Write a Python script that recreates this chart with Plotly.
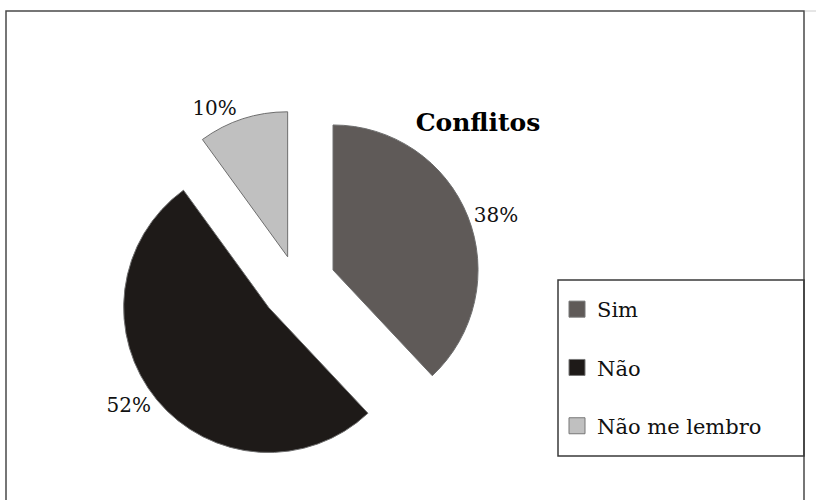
import plotly.graph_objects as go

categories = ["Sim", "Não", "Não me lembro"]
values = [38, 52, 10]
colors = ["#5f5a58", "#1e1a18", "#c0c0c0"]
pulls = [0.27, 0.25, 0.2]
title_text = "Conflitos"

W, H = 816, 500
SERIF = "DejaVu Serif"

fig = go.Figure()

fig.add_trace(go.Pie(
    labels=categories,
    values=values,
    sort=False,
    direction="clockwise",
    rotation=0,
    pull=pulls,
    marker=dict(colors=colors, line=dict(color="#6e6e6e", width=1)),
    textposition="outside",
    texttemplate="%{percent:.0%}",
    textfont=dict(family=SERIF, size=20, color="#111"),
    showlegend=False,
    automargin=False,
    hoverinfo="label+percent",
    domain=dict(x=[0.1378, 0.5892], y=[0.0628, 0.7996]),
))

# legend entries built from the same category / colour lists
for i, (cat, col) in enumerate(zip(categories, colors)):
    fig.add_trace(go.Scatter(
        x=[None], y=[None], mode="markers", name=cat,
        legendgroup=f"g{i}",
        marker=dict(symbol="square", size=18, color=col,
                    line=dict(color="#777", width=1)),
        hoverinfo="skip",
    ))

fig.update_layout(
    width=W, height=H,
    margin=dict(l=0, r=0, t=0, b=0, autoexpand=False),
    paper_bgcolor="white", plot_bgcolor="white",
    xaxis=dict(visible=False), yaxis=dict(visible=False),
    title=dict(text=f"<b>{title_text}</b>", x=478 / W, y=1 - 122 / H,
               xanchor="center", yanchor="middle",
               font=dict(family=SERIF, size=25, color="#000")),
    legend=dict(x=557 / W, y=1 - 289 / H, xanchor="left", yanchor="top",
                font=dict(family=SERIF, size=21, color="#111"),
                itemsizing="trace",
                tracegroupgap=28, bgcolor="rgba(0,0,0,0)", borderwidth=0,
                itemclick=False, itemdoubleclick=False),
    shapes=[
        dict(type="rect", xref="paper", yref="paper",
             x0=6 / W, x1=804 / W, y0=-0.1, y1=1 - 11 / H,
             line=dict(color="#4a4a4a", width=1.5)),
        dict(type="line", xref="paper", yref="paper",
             x0=805 / W, x1=1, y0=1 - 11 / H, y1=1 - 11 / H,
             line=dict(color="#cccccc", width=1)),
        dict(type="rect", xref="paper", yref="paper",
             x0=558 / W, x1=804 / W, y0=1 - 456 / H, y1=1 - 280 / H,
             line=dict(color="#3a3a3a", width=1.5)),
    ],
)

fig.write_html("out.html")
